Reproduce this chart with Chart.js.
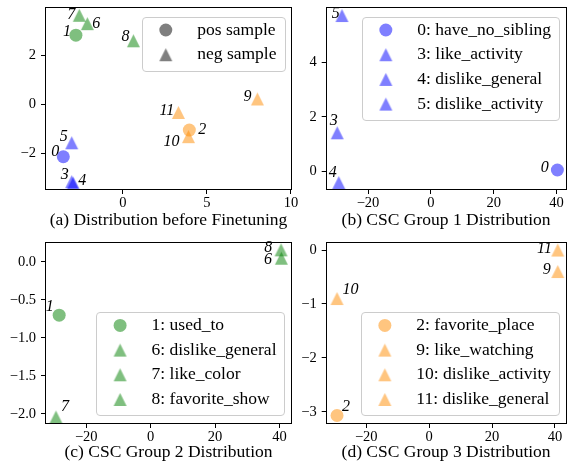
<!DOCTYPE html>
<html>
<head>
<meta charset="utf-8">
<title>CSC group distributions</title>
<script src="https://cdn.jsdelivr.net/npm/chart.js@4.4.0/dist/chart.umd.min.js"></script>
<style>
  html, body { margin: 0; padding: 0; background: #fff; }
  #wrap { position: relative; width: 573px; height: 464px; overflow: hidden; }
  #wrap canvas { position: absolute; }
</style>
</head>
<body>
<div id="wrap">
  <canvas id="chartA" width="300" height="232" style="left:0px;top:0px"></canvas>
  <canvas id="chartB" width="277" height="232" style="left:296px;top:0px"></canvas>
  <canvas id="chartC" width="300" height="232" style="left:0px;top:232px"></canvas>
  <canvas id="chartD" width="277" height="232" style="left:296px;top:232px"></canvas>
</div>
<script>
// ---- data ----
const posIds = [0, 1, 2]; // circles = pos sample, the rest are triangles

// (a) before finetuning, all 12 samples
const idsA = [0, 1, 2, 3, 4, 5, 6, 7, 8, 9, 10, 11];
const xA = [-3.55, -2.8, 3.95, -3.05, -2.96, -3.05, -2.12, -2.6, 0.62, 8.0, 3.9, 3.3];
const yA = [-2.14, 2.83, -1.05, -3.16, -3.22, -1.57, 3.3, 3.64, 2.6, 0.22, -1.32, -0.33];
const groupA = [1, 2, 3, 1, 1, 1, 2, 2, 2, 3, 3, 3];

// (b) CSC group 1
const idsB = [0, 3, 4, 5];
const namesB = ['have_no_sibling', 'like_activity', 'dislike_general', 'dislike_activity'];
const xB = [40.3, -29.8, -29.3, -28.3];
const yB = [0.06, 1.42, -0.4, 5.7];

// (c) CSC group 2
const idsC = [1, 6, 7, 8];
const namesC = ['used_to', 'dislike_general', 'like_color', 'favorite_show'];
const xC = [-28.4, 40.6, -29.4, 40.5];
const yC = [-0.70, 0.05, -2.04, 0.16];

// (d) CSC group 3
const idsD = [2, 9, 10, 11];
const namesD = ['favorite_place', 'like_watching', 'dislike_activity', 'dislike_general'];
const xD = [-29.3, 40.9, -29.3, 40.9];
const yD = [-3.07, -0.40, -0.90, 0.0];

// tick labels
const xTicksA = [0, 5, 10];
const yTicksA = [-2, 0, 2];
const xTicksB = [-20, 0, 20, 40];
const yTicksB = [0, 2, 4];
const xTicksC = [-20, 0, 20, 40];
const yTicksC = [0, -0.5, -1, -1.5, -2];
const xTicksD = [-20, 0, 20, 40];
const yTicksD = [0, -1, -2, -3];

// ---- styles ----
const FONT = "'Liberation Serif', 'Times New Roman', serif";
const groupColors = { 1: 'rgba(0,0,255,0.5)', 2: 'rgba(0,128,0,0.5)', 3: 'rgba(255,140,0,0.5)' };
const GRAY = 'rgba(0,0,0,0.5)';
const MARK = 13; // marker width in px

// matplotlib style '^' marker (as wide as tall, centred on its box)
const triCache = {};
function triangleMarker(color) {
  if (triCache[color]) return triCache[color];
  const c = document.createElement('canvas');
  const s = MARK + 2;
  c.width = s; c.height = s;
  const g = c.getContext('2d');
  const m = s / 2, h = MARK / 2;
  g.fillStyle = color;
  g.beginPath();
  g.moveTo(m, m - h);
  g.lineTo(m - h, m + h);
  g.lineTo(m + h, m + h);
  g.closePath();
  g.fill();
  triCache[color] = c;
  return c;
}

function styleFor(id, color) {
  return posIds.includes(id) ? 'circle' : triangleMarker(color);
}

function pointDataset(id, x, y, color, text, off) {
  return {
    label: text,
    data: [{ x: x, y: y }],
    pointStyle: styleFor(id, color),
    pointRadius: MARK / 2,
    pointHoverRadius: MARK / 2,
    backgroundColor: color,
    pointBackgroundColor: color,
    borderWidth: 0,
    pointBorderWidth: 0,
    tag: String(id),
    tagOffset: off
  };
}

function drawMarker(ctx, style, color, x, y) {
  ctx.save();
  ctx.fillStyle = color;
  if (Chart.helpers && Chart.helpers.drawPoint) {
    Chart.helpers.drawPoint(ctx, { pointStyle: style, radius: MARK / 2, rotation: 0, borderWidth: 0 }, x, y);
  } else if (style === 'circle') {
    ctx.beginPath();
    ctx.arc(x, y, MARK / 2, 0, Math.PI * 2);
    ctx.fill();
  } else {
    ctx.drawImage(style, x - style.width / 2, y - style.height / 2);
  }
  ctx.restore();
}

function minus(s) { return s.replace('-', '\u2212'); }

// small italic index next to every point
const namePlugin = {
  id: 'pointNames',
  afterDraw(chart) {
    const ctx = chart.ctx;
    ctx.save();
    ctx.font = 'italic 16px ' + FONT;
    ctx.fillStyle = '#000';
    ctx.textAlign = 'center';
    ctx.textBaseline = 'middle';
    chart.data.datasets.forEach((ds, i) => {
      const el = chart.getDatasetMeta(i).data[0];
      ctx.fillText(ds.tag, el.x + ds.tagOffset[0], el.y + ds.tagOffset[1]);
    });
    ctx.restore();
  }
};

// full box around the axes
const framePlugin = {
  id: 'frameBox',
  afterDraw(chart) {
    const { left, top, right, bottom } = chart.chartArea;
    const ctx = chart.ctx;
    ctx.save();
    ctx.strokeStyle = '#000';
    ctx.lineWidth = 1;
    const x0 = Math.round(left) + 0.5, y0 = Math.round(top) + 0.5;
    const x1 = Math.round(right) - 0.5, y1 = Math.round(bottom) - 0.5;
    ctx.strokeRect(x0, y0, x1 - x0, y1 - y0);
    ctx.restore();
  }
};

// legend box inside the axes, like matplotlib
function makeLegend(corner, entries) {
  return {
    id: 'boxLegend',
    afterDraw(chart) {
      const ctx = chart.ctx;
      const area = chart.chartArea;
      const list = entries || chart.data.datasets.map(ds => ({
        text: ds.label, style: ds.pointStyle, color: ds.backgroundColor
      }));
      ctx.save();
      ctx.font = '17.5px ' + FONT;
      let tw = 0;
      list.forEach(e => { tw = Math.max(tw, ctx.measureText(e.text).width); });
      const w = 55.5 + tw + 8;
      const h = 13.5 + (list.length - 1) * 24.7 + 15.5;
      const x = area.right - 7.5 - w;
      const y = corner === 'top' ? area.top + 10 : area.bottom - 9 - h;
      ctx.beginPath();
      ctx.roundRect(Math.round(x) + 0.5, Math.round(y) + 0.5, Math.round(w), Math.round(h), 3.5);
      ctx.fillStyle = 'rgba(255,255,255,0.8)';
      ctx.fill();
      ctx.strokeStyle = '#cccccc';
      ctx.lineWidth = 1;
      ctx.stroke();
      list.forEach((e, i) => {
        const ry = y + 13.5 + i * 24.7;
        drawMarker(ctx, e.style, e.color, x + 24, ry);
        ctx.fillStyle = '#000';
        ctx.textAlign = 'left';
        ctx.textBaseline = 'middle';
        ctx.fillText(e.text, x + 55.5, ry);
      });
      ctx.restore();
    }
  };
}

function buildPanel(p) {
  const cv = document.getElementById(p.id);
  const W = cv.width, H = cv.height;
  const left = p.area[0] - p.origin[0];
  const top = p.area[1] - p.origin[1];
  const right = p.area[2] - p.origin[0];
  const bottom = p.area[3] - p.origin[1];
  const capLH = 17.5 * 1.2;
  const xH = p.captionY - p.area[3] + capLH / 2;
  const padBottom = Math.max(0, H - bottom - xH);
  const tickFont = { family: FONT, size: 14.5, lineHeight: 1.2 };

  new Chart(cv, {
    type: 'scatter',
    data: { datasets: p.datasets },
    options: {
      responsive: false,
      animation: false,
      devicePixelRatio: 1,
      events: [],
      layout: { padding: { left: 0, top: top, right: W - right, bottom: padBottom } },
      plugins: { legend: { display: false }, tooltip: { enabled: false } },
      scales: {
        x: {
          type: 'linear',
          position: 'bottom',
          min: p.xLim[0],
          max: p.xLim[1],
          afterBuildTicks: s => { s.ticks = p.xTicks.map(v => ({ value: v })); },
          afterFit: s => { s.height = xH; s.paddingLeft = 0; s.paddingRight = 0; },
          border: { display: false },
          grid: { drawOnChartArea: false, drawTicks: true, tickLength: 4, color: '#000', tickColor: '#000', lineWidth: 1 },
          ticks: {
            color: '#000', font: tickFont, padding: 0, maxRotation: 0, autoSkip: false,
            callback: v => minus(String(v))
          },
          title: {
            display: true, text: p.caption, color: '#000',
            font: { family: FONT, size: 17.5, lineHeight: 1.2 },
            padding: { top: 0, bottom: 0 }
          }
        },
        y: {
          type: 'linear',
          min: p.yLim[0],
          max: p.yLim[1],
          afterBuildTicks: s => { s.ticks = p.yTicks.map(v => ({ value: v })); },
          afterFit: s => { s.width = left; s.paddingTop = 0; s.paddingBottom = 0; },
          border: { display: false },
          grid: { drawOnChartArea: false, drawTicks: true, tickLength: 4, color: '#000', tickColor: '#000', lineWidth: 1 },
          ticks: {
            color: '#000', font: tickFont, padding: 5, autoSkip: false,
            callback: v => minus(p.yDigits ? v.toFixed(p.yDigits) : String(v))
          }
        }
      }
    },
    plugins: [namePlugin, framePlugin, makeLegend(p.legendCorner, p.legendEntries)]
  });
}

// ---- panels ----
const offA = [[-8, -5], [-9, -3], [13, 0], [-7, -7], [9, -2], [-8, -6], [9, 0], [-8, -1], [-8, -4], [-10, -2], [-17, 5], [-11.5, -2]];
const offB = [[-12.6, -2], [-3.6, -12], [-6, -9.4], [-6.3, -2]];
const offC = [[-9.3, -8.3], [-13.4, 1.7], [9, -10.6], [-12.7, -1.7]];
const offD = [[9, -9], [-11, -1.7], [13.4, -8.3], [-13.3, -1]];

buildPanel({
  id: 'chartA', origin: [0, 0], area: [45, 6, 292, 190], captionY: 220.5,
  xLim: [-4.64, 10.06], yLim: [-3.5, 4.0], xTicks: xTicksA, yTicks: yTicksA,
  caption: '(a) Distribution before Finetuning',
  datasets: idsA.map((id, i) => pointDataset(id, xA[i], yA[i], groupColors[groupA[i]], String(id), offA[i])),
  legendCorner: 'top',
  legendEntries: [
    { text: 'pos sample', style: 'circle', color: GRAY },
    { text: 'neg sample', style: triangleMarker(GRAY), color: GRAY }
  ]
});

buildPanel({
  id: 'chartB', origin: [296, 0], area: [325.7, 6, 571.5, 190], captionY: 220.5,
  xLim: [-33.47, 43.2], yLim: [-0.67, 6.03], xTicks: xTicksB, yTicks: yTicksB,
  caption: '(b) CSC Group 1 Distribution',
  datasets: idsB.map((id, i) => pointDataset(id, xB[i], yB[i], groupColors[1], id + ': ' + namesB[i], offB[i])),
  legendCorner: 'top'
});

buildPanel({
  id: 'chartC', origin: [0, 232], area: [45, 241.7, 292, 424], captionY: 452,
  xLim: [-32.8, 43.9], yLim: [-2.132, 0.267], xTicks: xTicksC, yTicks: yTicksC, yDigits: 1,
  caption: '(c) CSC Group 2 Distribution',
  datasets: idsC.map((id, i) => pointDataset(id, xC[i], yC[i], groupColors[2], id + ': ' + namesC[i], offC[i])),
  legendCorner: 'bottom'
});

buildPanel({
  id: 'chartD', origin: [296, 232], area: [325.7, 241.7, 571.5, 424], captionY: 452,
  xLim: [-32.9, 43.67], yLim: [-3.228, 0.154], xTicks: xTicksD, yTicks: yTicksD,
  caption: '(d) CSC Group 3 Distribution',
  datasets: idsD.map((id, i) => pointDataset(id, xD[i], yD[i], groupColors[3], id + ': ' + namesD[i], offD[i])),
  legendCorner: 'bottom'
});
</script>
</body>
</html>
